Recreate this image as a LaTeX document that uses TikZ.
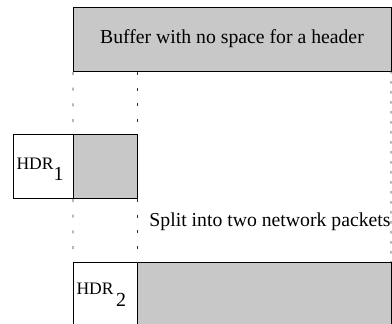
\documentclass[tikz,border=0pt]{standalone}
\usepackage{fontspec}
\setmainfont{Liberation Serif}
\definecolor{boxgray}{RGB}{200,200,200}
\newcommand{\titlefont}{\fontsize{19.8}{22}\selectfont}
\newcommand{\hdrfont}{\fontsize{17.6}{20}\selectfont}
\newcommand{\subfont}{\fontsize{20}{22}\selectfont}
\tikzset{
  cell/.style={draw=black, line width=0.8bp, inner sep=0pt, outer sep=0pt, anchor=north west},
  graycell/.style={cell, fill=boxgray},
  tickline/.style={draw=black!80, line width=0.8bp, dash pattern=on 3bp off 12.7bp, dash phase=-1bp},
  fineticks/.style={draw=black!80, line width=0.8bp, dash pattern=on 2.5bp off 7.5bp},
  lbl/.style={inner sep=0pt, outer sep=0pt}
}
\begin{document}
\begin{tikzpicture}[x=1bp,y=-1bp]
\useasboundingbox (0,0) rectangle (392,324);
\clip (0,0) rectangle (392,324);
% boxes
\node[graycell, minimum width=318bp, minimum height=64bp, font=\titlefont] (buf) at (73,7) {Buffer with no space for a header};
\node[cell, minimum width=60bp, minimum height=64bp] (hdr1) at (13,134) {};
\node[graycell, minimum width=64bp, minimum height=64bp] (pay1) at (73,134) {};
\node[cell, minimum width=64bp, minimum height=64bp] (hdr2) at (73,262) {};
\node[graycell, minimum width=254bp, minimum height=64bp] (pay2) at (137,262) {};
% dashed guide lines
\draw[tickline] (buf.south west) -- (hdr1.north east);
\draw[tickline] (pay1.north east |- buf.south) -- (pay1.north east);
\draw[tickline] (hdr1.south east) -- (hdr2.north west);
\draw[tickline] (pay1.south east) -- (hdr2.north east);
\draw[fineticks] (buf.south east) -- (pay2.north east);
% labels
\node[lbl, anchor=base west] (h1) at (16.5,169.7) {{\hdrfont HDR}\raisebox{-11bp}{\subfont 1}};
\node[lbl, anchor=base west] (h2) at (76.5,294.3) {{\hdrfont HDR}\hspace{2.5bp}\raisebox{-12.5bp}{\subfont 2}};
\node[lbl, anchor=base, font=\titlefont] (split) at (270,226) {Split into two network packets};
\end{tikzpicture}
\end{document}
